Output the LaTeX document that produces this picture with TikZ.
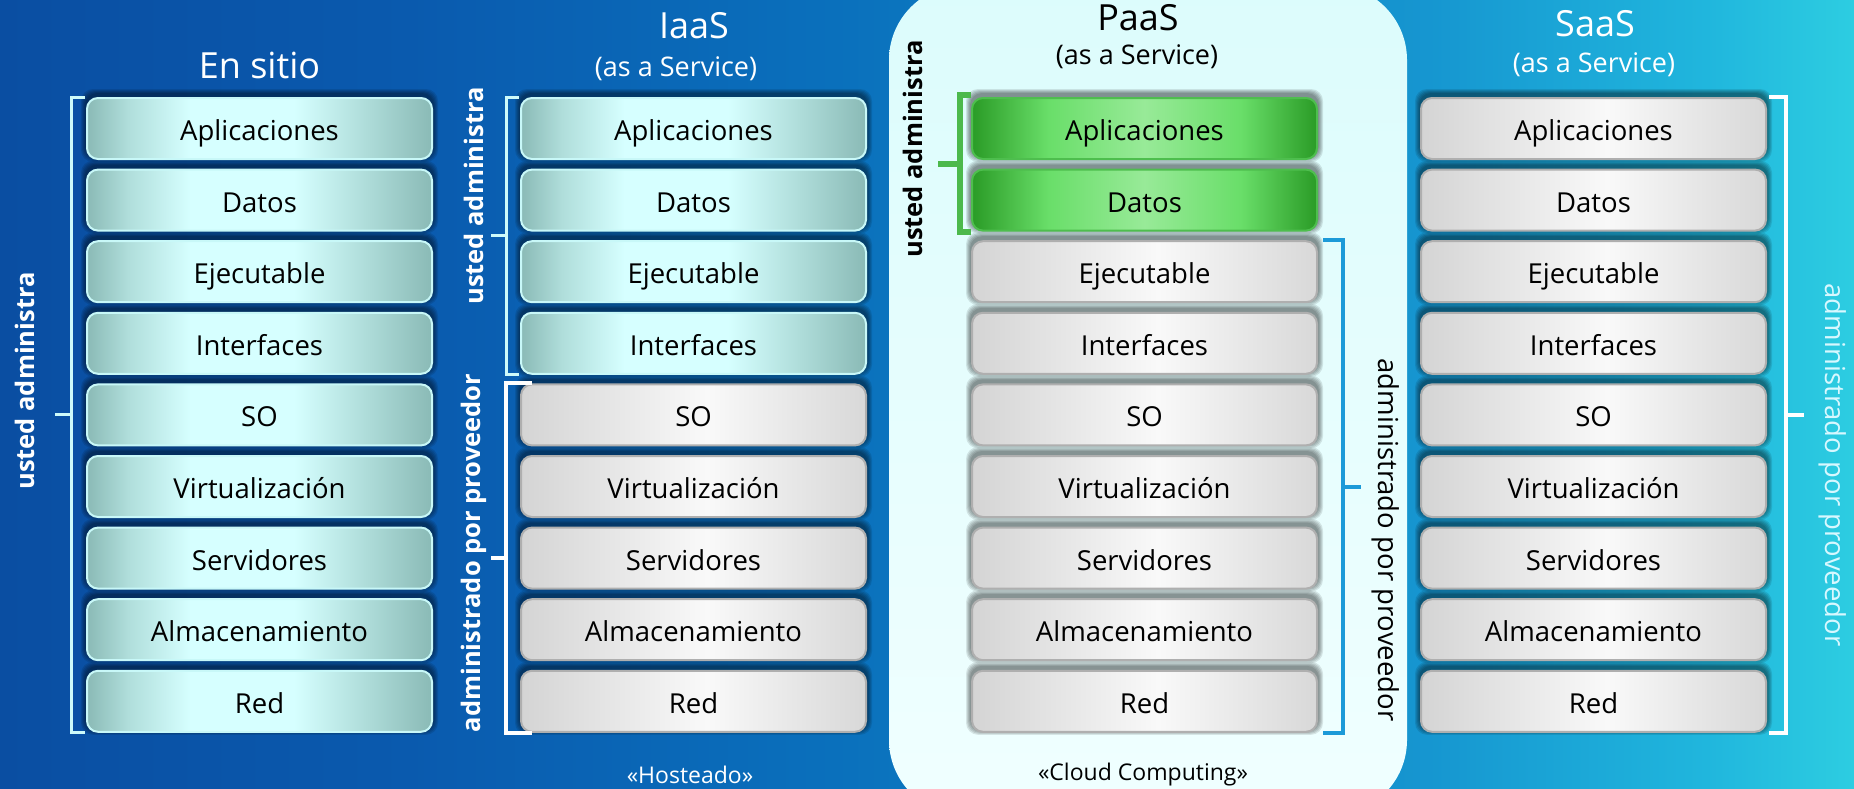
\documentclass[tikz,border=0pt]{standalone}
\usepackage{fontspec}
\setmainfont{Open Sans}
\usetikzlibrary{calc}
\definecolor{bg0}{RGB}{10,78,162}
\definecolor{bg1}{RGB}{10,90,174}
\definecolor{bg2}{RGB}{10,112,188}
\definecolor{bg3}{RGB}{22,150,208}
\definecolor{bg4}{RGB}{32,182,221}
\definecolor{bg5}{RGB}{45,205,225}
\definecolor{tE}{RGB}{138,186,182}
\definecolor{tM}{RGB}{176,222,219}
\definecolor{tL}{RGB}{214,255,255}
\definecolor{tBorder}{RGB}{200,248,248}
\definecolor{gE}{RGB}{212,212,212}
\definecolor{gL}{RGB}{249,249,249}
\definecolor{gE2}{RGB}{216,216,216}
\definecolor{gBorder}{RGB}{175,175,175}
\definecolor{nE}{RGB}{42,155,38}
\definecolor{nM}{RGB}{105,222,105}
\definecolor{nL}{RGB}{152,234,152}
\definecolor{nBorder}{RGB}{78,190,78}
\definecolor{pT}{RGB}{220,252,252}
\definecolor{pB}{RGB}{240,255,255}
\definecolor{brkCyan}{RGB}{205,250,250}
\definecolor{brkGreen}{RGB}{76,185,76}
\definecolor{brkBlue}{RGB}{28,154,216}
\definecolor{saasLbl}{RGB}{215,248,255}
% the visible part of a TikZ shading is 25bp..75bp
\pgfdeclarehorizontalshading{bgsh}{100bp}{color(0bp)=(bg0); color(25bp)=(bg0); color(36bp)=(bg1); color(47.5bp)=(bg2); color(63.5bp)=(bg3); color(71bp)=(bg4); color(75bp)=(bg5); color(100bp)=(bg5)}
\pgfdeclarehorizontalshading{tealsh}{100bp}{color(0bp)=(tE); color(25bp)=(tE); color(31bp)=(tM); color(40bp)=(tL); color(55bp)=(tL); color(65bp)=(tM); color(75bp)=(tE); color(100bp)=(tE)}
\pgfdeclarehorizontalshading{graysh}{100bp}{color(0bp)=(gE); color(25bp)=(gE); color(52bp)=(gL); color(75bp)=(gE2); color(100bp)=(gE2)}
\pgfdeclarehorizontalshading{greensh}{100bp}{color(0bp)=(nE); color(25bp)=(nE); color(36bp)=(nM); color(50bp)=(nL); color(64bp)=(nM); color(75bp)=(nE); color(100bp)=(nE)}
\pgfdeclarelayer{back}
\pgfdeclarelayer{shadow}
\pgfsetlayers{back,shadow,main}
\newcommand\boxshd[1]{%
  \begin{pgfonlayer}{shadow}
    \foreach \k in {1,...,5}{
      \fill[black,opacity=0.1,rounded corners=12pt] ($(#1.north west)+(-\k,-\k-3)$) rectangle ($(#1.south east)+(\k,\k-3)$);
    }
  \end{pgfonlayer}}
\tikzset{
  box/.style={rounded corners=11pt, minimum width=345pt, minimum height=61pt, inner sep=0pt,
    line width=2pt, text=black, font=\fontsize{27.5}{30}\selectfont, text height=24pt, text depth=0pt},
  tealbox/.style={box, shade, shading=tealsh, draw=tBorder},
  graybox/.style={box, shade, shading=graysh, draw=gBorder},
  greenbox/.style={box, shade, shading=greensh, draw=nBorder},
  title/.style={font=\fontsize{36}{40}\selectfont, inner sep=0pt},
  subtitle/.style={font=\fontsize{27}{30}\selectfont, inner sep=0pt},
  foot/.style={font=\fontsize{23}{26}\selectfont, inner sep=0pt},
  lblB/.style={font=\bfseries\fontsize{25.5}{28}\selectfont, inner sep=0pt},
  lblR/.style={font=\fontsize{27.5}{30}\selectfont, inner sep=0pt},
  brk/.style={line width=3pt, line cap=butt, line join=miter},
}
\begin{document}
\begin{tikzpicture}[x=1pt,y=-1pt]
\useasboundingbox (0,0) rectangle (1854,788);
\begin{pgfonlayer}{back}
  \begin{scope}
    \clip (0,0) rectangle (1854,788);
    \shade[shading=bgsh] (0,0) rectangle (1854,788);
    \shade[top color=pT, bottom color=pB, rounded corners=75pt] (889,-15) rectangle (1407,815);
  \end{scope}
\end{pgfonlayer}

% titles
\node[title, white] (tS) at (259.5,65) {En sitio};
\node[title, white] (tI) at (694,26) {IaaS};
\node[subtitle, white] (tIs) at (676,69) {(as a Service)};
\node[title, black] (tP) at (1138,18) {PaaS};
\node[subtitle, black] (tPs) at (1137,57) {(as a Service)};
\node[title, white] (tA) at (1595,24) {SaaS};
\node[subtitle, white] (tAs) at (1594,65) {(as a Service)};

% boxes
\foreach \t [count=\i from 0] in {Aplicaciones,Datos,Ejecutable,Interfaces,SO,Virtualización,Servidores,Almacenamiento,Red}{
  \pgfmathsetmacro\yy{128.5+71.6*\i}
  \node[tealbox] (s\i) at (259.5,\yy) {\t};
  \boxshd{s\i}
  \ifnum\i<4 \tikzset{icur/.style={tealbox}}\else\tikzset{icur/.style={graybox}}\fi
  \node[icur] (i\i) at (693.5,\yy) {\t};
  \boxshd{i\i}
  \ifnum\i<2 \tikzset{pcur/.style={greenbox}}\else\tikzset{pcur/.style={graybox}}\fi
  \node[pcur] (p\i) at (1144.5,\yy) {\t};
  \boxshd{p\i}
  \node[graybox] (a\i) at (1593.5,\yy) {\t};
  \boxshd{a\i}
}

% En sitio bracket
\draw[brk, brkCyan] ($(s0.north west)+(-1,0)$) -- ($(s0.north west)+(-15,0)$) -- ($(s8.south west)+(-15,0)$) -- ($(s8.south west)+(-1,0)$);
\coordinate (sm) at ($(s0.north west)!0.5!(s8.south west)+(-15,0)$);
\draw[brk, brkCyan] (sm) -- ++(-16,0);
\node[lblB, white, rotate=90] (lS) at (25,381) {usted administra};

% IaaS brackets
\draw[brk, brkCyan] ($(i0.north west)+(-1,0)$) -- ($(i0.north west)+(-14,0)$) -- ($(i3.south west)+(-14,0)$) -- ($(i3.south west)+(-1,0)$);
\coordinate (im1) at ($(i0.north west)!0.5!(i3.south west)+(-14,0)$);
\draw[brk, brkCyan] (im1) -- ++(-15,0);
\node[lblB, white, rotate=90] (lI1) at (474,196) {usted administra};
\draw[brk, white, line width=4pt] ($(i4.north west)+(12,0)$) -- ($(i4.north west)+(-14,0)$) -- ($(i8.south west)+(-14,0)$) -- ($(i8.south west)+(12,0)$);
\coordinate (im2) at ($(i4.north west)!0.5!(i8.south west)+(-14,0)$);
\draw[brk, white, line width=4pt] (im2) -- ++(-15,0);
\node[lblB, white, rotate=90] (lI2) at (474,553) {administrado por proveedor};

% PaaS brackets
\draw[brk, brkGreen, line width=6pt] ($(p0.north west)+(0,-2)$) -- ($(p0.north west)+(-11,-2)$) -- ($(p1.south west)+(-11,0)$) -- ($(p1.south west)+(0,0)$);
\coordinate (pm1) at ($(p0.north west)!0.5!(p1.south west)+(-11,0)$);
\draw[brk, brkGreen, line width=6pt] (pm1) -- ++(-22,0);
\node[lblB, black, rotate=90] (lP1) at (913,149) {usted administra};
\draw[brk, brkBlue, line width=4pt] ($(p2.north east)+(5,0)$) -- ($(p2.north east)+(25,0)$) -- ($(p8.south east)+(25,0)$) -- ($(p8.south east)+(5,0)$);
\coordinate (pm2) at ($(p2.north east)!0.5!(p8.south east)+(25,0)$);
\draw[brk, brkBlue, line width=4pt] (pm2) -- ++(18,0);
\node[lblR, black, rotate=-90] (lP2) at (1386,540) {administrado por proveedor};

% SaaS bracket
\draw[brk, white, line width=4pt] ($(a0.north east)+(2,0)$) -- ($(a0.north east)+(19,0)$) -- ($(a8.south east)+(19,0)$) -- ($(a8.south east)+(2,0)$);
\coordinate (am) at ($(a0.north east)!0.5!(a8.south east)+(19,0)$);
\draw[brk, white, line width=4pt] (am) -- ++(18,0);
\node[lblR, saasLbl, rotate=-90] (lA) at (1833,465) {administrado por proveedor};

% footers
\node[foot, white] (fH) at (690,775) {«Hosteado»};
\node[foot, black] (fC) at (1143,775) {«Cloud Computing»};
\end{tikzpicture}
\end{document}
